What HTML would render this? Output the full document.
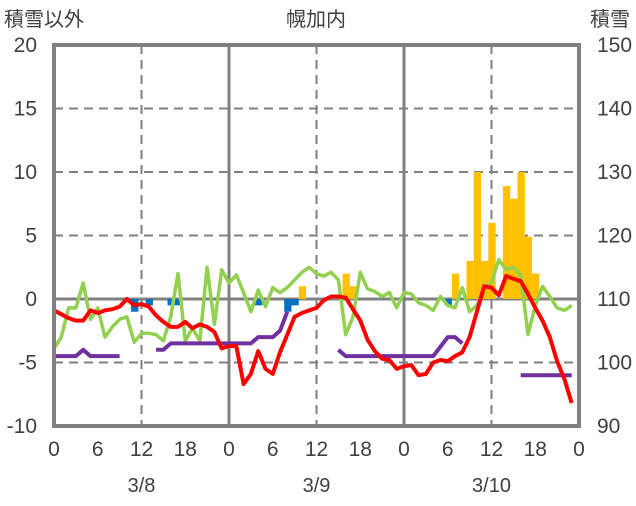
<!DOCTYPE html>
<html><head><meta charset="utf-8"><style>
body{margin:0;background:#fff;}
svg text{font-family:"Liberation Sans","Noto Sans CJK JP",sans-serif;fill:#404040;font-size:20px;}
svg text.tk{font-size:21px;}
</style></head><body>
<svg width="636" height="501" id="c">
<text x="4" y="26">積雪以外</text>
<text x="316" y="26" text-anchor="middle">幌加内</text>
<text x="590" y="26">積雪</text>
<g id="grid"></g><g id="bars"></g><g id="lines"></g><g id="axes"></g>
</svg>
<script>
const hours=[];for(let i=0;i<72;i++)hours.push(i);
const redSeries=[-0.9,-1.2,-1.5,-1.7,-1.7,-0.9,-1.1,-0.9,-0.8,-0.6,0,-0.5,-0.4,-0.6,-1.3,-1.8,-2.2,-2.2,-1.8,-2.3,-2.0,-2.2,-2.6,-3.9,
-3.7,-3.7,-6.7,-5.9,-4.1,-5.5,-5.9,-4.2,-2.8,-1.4,-1.1,-0.9,-0.7,-0.1,0.2,0.2,0.1,-0.8,-1.7,-3.2,-4.1,-4.7,-4.8,-5.5,
-5.3,-5.2,-6.0,-5.9,-5.0,-4.8,-4.9,-4.5,-4.2,-3.0,-1.0,1.0,0.9,0.3,1.8,1.6,1.4,0.4,-0.7,-1.7,-3.0,-4.9,-6.3,-8.2];
const greenSeries=[-3.9,-3.0,-0.7,-0.7,1.25,-1.6,-0.7,-3.0,-2.2,-1.6,-1.4,-3.4,-2.7,-2.7,-2.8,-3.3,-1.4,2.0,-3.3,-2.3,-3.3,2.5,-2.0,2.3,
1.25,1.9,0.5,-1.0,0.7,-0.6,0.9,0.5,0.9,1.5,2.1,2.5,2.0,1.8,2.1,1.5,-2.8,-1.4,2.1,0.8,0.6,0.2,0.5,-0.7,
0.5,0.4,-0.3,-0.5,-0.9,0.2,-0.5,-0.7,0.9,-1.0,-0.5,0.9,1.3,3.1,2.3,2.5,1.9,-2.8,-0.5,1.0,0.2,-0.7,-0.9,-0.5];
const snowDepth=[101,101,101,101,102,101,101,101,101,101,null,null,null,null,102,102,103,103,103,103,103,103,103,103,
103,103,103,103,104,104,104,105,108,null,null,null,null,null,null,102,101,101,101,101,101,101,101,101,
101,101,101,101,101,102.5,104,104,103,null,null,null,null,null,null,null,98,98,98,98,98,98,98,98];
const precipHours=[11,13,16,17,28,32,33,34,40,41,54,55,57,58,59,60,62,63,64,65,66];
const precipValues=[-1,-0.5,-0.5,-0.5,-0.5,-1,-0.5,1,2,1,-0.5,2,3,10,3,6,8.9,7.9,10,4.9,2];
const leftTicks=[20,15,10,5,0,-5,-10];
const rightTicks=[150,140,130,120,110,100,90];
const xTickLabels=["0","6","12","18","0","6","12","18","0","6","12","18","0"];
const dateLabels=["3/8","3/9","3/10"];

const X0=54,X1=579,Y0=45,Y1=426;
const xs=h=>X0+h*(X1-X0)/72;
const ys=v=>Y1-(v+10)*(Y1-Y0)/30;
const yr=v=>Y1-(v-90)*(Y1-Y0)/60;
const NS="http://www.w3.org/2000/svg";
function mk(p,t,a){const e=document.createElementNS(NS,t);for(const k in a)e.setAttribute(k,a[k]);document.getElementById(p).appendChild(e);return e;}
leftTicks.forEach(v=>{if(v===20||v===-10)return;
 const l=mk('grid','line',{x1:X0,x2:X1,y1:ys(v),y2:ys(v),stroke:'#808080','stroke-width':v===0?3:2,'stroke-dasharray':v===0?'':'9,6'});
 
 });
for(let h=12;h<72;h+=12){const l=mk('grid','line',{x1:xs(h),x2:xs(h),y1:Y0,y2:Y1,stroke:'#808080','stroke-width':h%24===0?3:2,'stroke-dasharray':h%24===0?'':'9,6'});
 
 }
const bw=(X1-X0)/72;
precipHours.forEach((h,i)=>{const v=precipValues[i];const y=Math.min(ys(0),ys(v));
 const r=mk('bars','rect',{x:xs(h)-bw/2+0.5,y:y,width:bw,height:Math.abs(ys(v)-ys(0)),fill:v>0?'#ffc000':'#0070c0'});
 
 });
function path(arr,f){let d='',pen=false;arr.forEach((v,i)=>{if(v===null){pen=false;return;}d+=(pen?'L':'M')+xs(hours[i]).toFixed(1)+','+f(v).toFixed(1);pen=true;});return d;}
const g=mk('lines','path',{d:path(greenSeries,ys),fill:'none',stroke:'#92d050','stroke-width':3.5,'stroke-linejoin':'round'});


const p=mk('lines','path',{d:path(snowDepth,yr),fill:'none',stroke:'#7030a0','stroke-width':4,'stroke-linejoin':'round'});


const r=mk('lines','path',{d:path(redSeries,ys),fill:'none',stroke:'#ff0000','stroke-width':4,'stroke-linejoin':'round'});


const b=mk('axes','rect',{x:X0,y:Y0,width:X1-X0,height:Y1-Y0,fill:'none',stroke:'#808080','stroke-width':4});


leftTicks.forEach(v=>{const t=mk('axes','text',{x:37,y:ys(v)+7,'text-anchor':'end','class':'tk'});t.textContent=v;
 
 });
rightTicks.forEach(v=>{const t=mk('axes','text',{x:597,y:yr(v)+7,'class':'tk'});t.textContent=v;
 
 });
xTickLabels.forEach((s,i)=>{const t=mk('axes','text',{x:xs(i*6),y:456,'text-anchor':'middle','class':'tk'});t.textContent=s;
 
 });
dateLabels.forEach((s,i)=>{const t=mk('axes','text',{x:xs(12+24*i),y:492,'text-anchor':'middle'});t.textContent=s;
 
 });
</script>
</body></html>
